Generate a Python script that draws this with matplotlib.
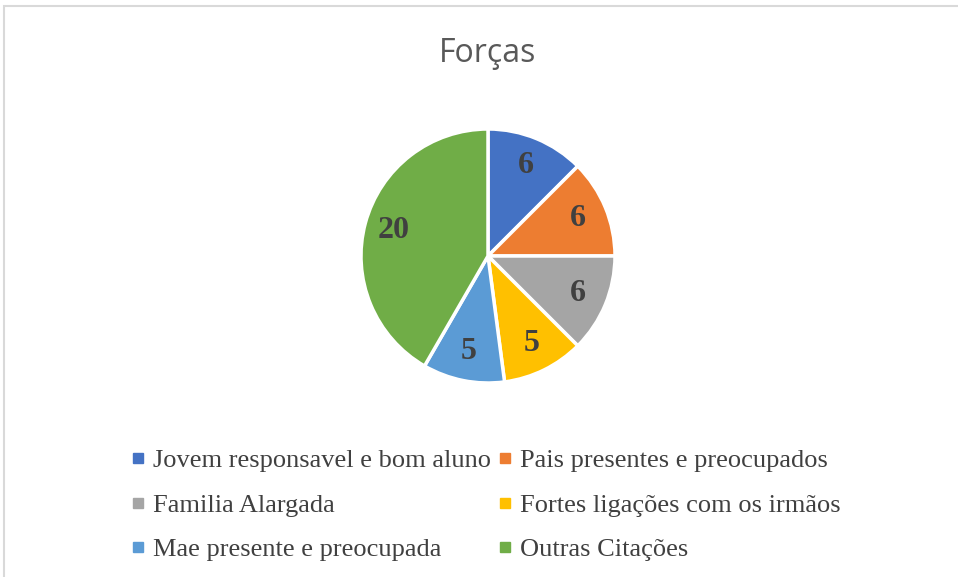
import matplotlib
matplotlib.use("Agg")
import matplotlib.pyplot as plt
from matplotlib.lines import Line2D
from matplotlib.patches import Rectangle

# data
categories = ["Jovem responsavel e bom aluno", "Pais presentes e preocupados",
              "Familia Alargada", "Fortes ligações com os irmãos",
              "Mae presente e preocupada", "Outras Citações"]
values = [6, 6, 6, 5, 5, 20]
colors = ["#4472C4", "#ED7D31", "#A5A5A5", "#FFC000", "#5B9BD5", "#70AD47"]
title = "Forças"

W, H = 958, 577
fig = plt.figure(figsize=(W / 100, H / 100), dpi=100)

# light frame (only top and left edges visible in the reference)
fig.patches.append(Rectangle((4 / W, -0.1), 1.2, 1 - 6 / H + 0.1,
                             transform=fig.transFigure, fill=False,
                             edgecolor="#D9D9D9", linewidth=1.5))

fig.text(488 / W, 1 - 53 / H, title, ha="center", va="center",
         fontsize=23, color="#595959", family="Open Sans")

# pie: centre (488,256), radius 127 px
r = 127
ax = fig.add_axes([(488 - r) / W, 1 - (256 + r) / H, 2 * r / W, 2 * r / H])
wedges, texts = ax.pie(values, colors=colors, startangle=90, counterclock=False,
                       labels=[str(v) for v in values], labeldistance=0.77,
                       wedgeprops=dict(edgecolor="white", linewidth=2.5))
for t in texts:
    t.set_ha("center")
    t.set_va("center")
    t.set_fontsize(23)
    t.set_fontweight("bold")
    t.set_family("Liberation Serif")
    t.set_color("#404040")
ax.set_xlim(-1, 1)
ax.set_ylim(-1, 1)
ax.set_aspect("equal")
ax.axis("off")

handles = [Line2D([], [], marker="s", linestyle="none", markersize=7,
                  markerfacecolor=c, markeredgecolor=c) for c in colors]
order = [0, 2, 4, 1, 3, 5]
leg = fig.legend([handles[i] for i in order], [categories[i] for i in order],
                 ncol=2, loc="center", bbox_to_anchor=(486 / W, 1 - 505 / H),
                 frameon=False, handlelength=0.5, handletextpad=0.3,
                 columnspacing=0.3, labelspacing=0.79,
                 prop={"family": "Liberation Serif", "size": 19})
for t in leg.get_texts():
    t.set_color("#404040")

fig.savefig("out.png", dpi=100, facecolor="white")
